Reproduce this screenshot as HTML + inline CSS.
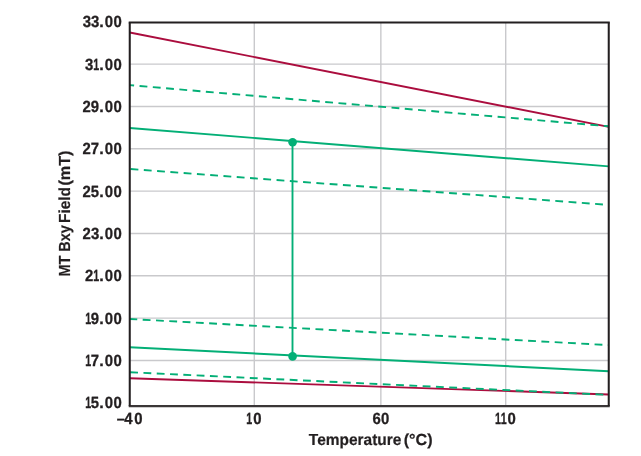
<!DOCTYPE html>
<html><head><meta charset="utf-8"><title>MT Bxy Field vs Temperature</title>
<style>
html,body{margin:0;padding:0;background:#fff;}
body{width:641px;height:456px;overflow:hidden;}
svg{display:block;will-change:transform;}
text{font-family:"Liberation Sans",Arial,sans-serif;font-weight:bold;fill:#231f20;text-rendering:geometricPrecision;}
</style></head><body>
<svg width="641" height="456" viewBox="0 0 641 456">
<rect width="641" height="456" fill="#fff"/>
<g stroke="#c9c9cc" stroke-width="1.4" fill="none">
<line x1="129.75" y1="64.13" x2="608.75" y2="64.13"/>
<line x1="129.75" y1="106.46" x2="608.75" y2="106.46"/>
<line x1="129.75" y1="148.79" x2="608.75" y2="148.79"/>
<line x1="129.75" y1="191.12" x2="608.75" y2="191.12"/>
<line x1="129.75" y1="233.45" x2="608.75" y2="233.45"/>
<line x1="129.75" y1="275.78" x2="608.75" y2="275.78"/>
<line x1="129.75" y1="318.11" x2="608.75" y2="318.11"/>
<line x1="129.75" y1="360.44" x2="608.75" y2="360.44"/>
<line x1="254.3" y1="22.55" x2="254.3" y2="406.05"/>
<line x1="380.85" y1="22.55" x2="380.85" y2="406.05"/>
<line x1="505.7" y1="22.55" x2="505.7" y2="406.05"/>
</g>
<g fill="none" stroke-width="1.9">
<line x1="129.75" y1="32.5" x2="608.75" y2="126.9" stroke="#ab0d3e"/>
<line x1="129.75" y1="378.2" x2="608.75" y2="394.45" stroke="#ab0d3e"/>
<line x1="129.75" y1="85.15" x2="608.75" y2="126.3" stroke="#03af76" stroke-dasharray="7.85 5.46" stroke-dashoffset="3.47"/>
<line x1="129.75" y1="169" x2="608.75" y2="204.9" stroke="#03af76" stroke-dasharray="7.85 5.46" stroke-dashoffset="-0.8"/>
<line x1="129.75" y1="318.98" x2="608.75" y2="345.1" stroke="#03af76" stroke-dasharray="7.85 5.46" stroke-dashoffset="0.35"/>
<line x1="129.75" y1="127.95" x2="608.75" y2="166.4" stroke="#03af76"/>
<line x1="129.75" y1="347.2" x2="608.75" y2="371.25" stroke="#03af76"/>
<line x1="129.75" y1="372.25" x2="608.75" y2="394.9" stroke="#03af76" stroke-dasharray="7.85 5.46" stroke-dashoffset="-0.4"/>
</g>
<line x1="292.5" y1="142.2" x2="292.5" y2="356.4" stroke="#03af76" stroke-width="1.9"/>
<circle cx="292.6" cy="142.2" r="4.3" fill="#03af76"/>
<circle cx="292.6" cy="356.4" r="4.3" fill="#03af76"/>
<g stroke="#231f20" fill="none">
<line x1="128.72" y1="22.55" x2="609.77" y2="22.55" stroke-width="2.05"/>
<line x1="128.72" y1="406.05" x2="609.77" y2="406.05" stroke-width="2.25" stroke="#3a3637"/>
<line x1="129.75" y1="22.55" x2="129.75" y2="406.05" stroke-width="2.05"/>
<line x1="608.75" y1="22.55" x2="608.75" y2="406.05" stroke-width="2.05"/>
</g>
<g font-size="16.2" stroke="#231f20" stroke-width="0.3">
<text y="27.25"><tspan x="82.65" textLength="8.29" lengthAdjust="spacingAndGlyphs">3</tspan><tspan x="90.9" textLength="8.29" lengthAdjust="spacingAndGlyphs">3</tspan><tspan x="99.16">.</tspan><tspan x="104.67" textLength="8.29" lengthAdjust="spacingAndGlyphs">0</tspan><tspan x="113.57" textLength="8.29" lengthAdjust="spacingAndGlyphs">0</tspan></text>
<text y="69.58"><tspan x="85.05" textLength="8.29" lengthAdjust="spacingAndGlyphs">3</tspan><tspan x="93.14" textLength="5.95" lengthAdjust="spacingAndGlyphs">1</tspan><tspan x="99.16">.</tspan><tspan x="104.67" textLength="8.29" lengthAdjust="spacingAndGlyphs">0</tspan><tspan x="113.57" textLength="8.29" lengthAdjust="spacingAndGlyphs">0</tspan></text>
<text y="111.91"><tspan x="82.6" textLength="8.29" lengthAdjust="spacingAndGlyphs">2</tspan><tspan x="90.82" textLength="8.29" lengthAdjust="spacingAndGlyphs">9</tspan><tspan x="99.16">.</tspan><tspan x="104.67" textLength="8.29" lengthAdjust="spacingAndGlyphs">0</tspan><tspan x="113.57" textLength="8.29" lengthAdjust="spacingAndGlyphs">0</tspan></text>
<text y="154.24"><tspan x="82.6" textLength="8.29" lengthAdjust="spacingAndGlyphs">2</tspan><tspan x="90.81" textLength="8.29" lengthAdjust="spacingAndGlyphs">7</tspan><tspan x="99.16">.</tspan><tspan x="104.67" textLength="8.29" lengthAdjust="spacingAndGlyphs">0</tspan><tspan x="113.57" textLength="8.29" lengthAdjust="spacingAndGlyphs">0</tspan></text>
<text y="196.57"><tspan x="82.6" textLength="8.29" lengthAdjust="spacingAndGlyphs">2</tspan><tspan x="90.78" textLength="8.29" lengthAdjust="spacingAndGlyphs">5</tspan><tspan x="99.16">.</tspan><tspan x="104.67" textLength="8.29" lengthAdjust="spacingAndGlyphs">0</tspan><tspan x="113.57" textLength="8.29" lengthAdjust="spacingAndGlyphs">0</tspan></text>
<text y="238.9"><tspan x="82.6" textLength="8.29" lengthAdjust="spacingAndGlyphs">2</tspan><tspan x="90.9" textLength="8.29" lengthAdjust="spacingAndGlyphs">3</tspan><tspan x="99.16">.</tspan><tspan x="104.67" textLength="8.29" lengthAdjust="spacingAndGlyphs">0</tspan><tspan x="113.57" textLength="8.29" lengthAdjust="spacingAndGlyphs">0</tspan></text>
<text y="281.23"><tspan x="85" textLength="8.29" lengthAdjust="spacingAndGlyphs">2</tspan><tspan x="93.14" textLength="5.95" lengthAdjust="spacingAndGlyphs">1</tspan><tspan x="99.16">.</tspan><tspan x="104.67" textLength="8.29" lengthAdjust="spacingAndGlyphs">0</tspan><tspan x="113.57" textLength="8.29" lengthAdjust="spacingAndGlyphs">0</tspan></text>
<text y="323.56"><tspan x="85.34" textLength="5.95" lengthAdjust="spacingAndGlyphs">1</tspan><tspan x="90.82" textLength="8.29" lengthAdjust="spacingAndGlyphs">9</tspan><tspan x="99.16">.</tspan><tspan x="104.67" textLength="8.29" lengthAdjust="spacingAndGlyphs">0</tspan><tspan x="113.57" textLength="8.29" lengthAdjust="spacingAndGlyphs">0</tspan></text>
<text y="365.89"><tspan x="85.34" textLength="5.95" lengthAdjust="spacingAndGlyphs">1</tspan><tspan x="90.81" textLength="8.29" lengthAdjust="spacingAndGlyphs">7</tspan><tspan x="99.16">.</tspan><tspan x="104.67" textLength="8.29" lengthAdjust="spacingAndGlyphs">0</tspan><tspan x="113.57" textLength="8.29" lengthAdjust="spacingAndGlyphs">0</tspan></text>
<text y="408.22"><tspan x="85.34" textLength="5.95" lengthAdjust="spacingAndGlyphs">1</tspan><tspan x="90.78" textLength="8.29" lengthAdjust="spacingAndGlyphs">5</tspan><tspan x="99.16">.</tspan><tspan x="104.67" textLength="8.29" lengthAdjust="spacingAndGlyphs">0</tspan><tspan x="113.57" textLength="8.29" lengthAdjust="spacingAndGlyphs">0</tspan></text>
<text y="424"><tspan x="116.64" textLength="7.93" lengthAdjust="spacingAndGlyphs">–</tspan><tspan x="124.28" textLength="8.29" lengthAdjust="spacingAndGlyphs">4</tspan><tspan x="134.27" textLength="8.29" lengthAdjust="spacingAndGlyphs">0</tspan></text>
<text y="424"><tspan x="246.34" textLength="5.95" lengthAdjust="spacingAndGlyphs">1</tspan><tspan x="253.17" textLength="8.29" lengthAdjust="spacingAndGlyphs">0</tspan></text>
<text y="424"><tspan x="372.45" textLength="8.29" lengthAdjust="spacingAndGlyphs">6</tspan><tspan x="381.07" textLength="8.29" lengthAdjust="spacingAndGlyphs">0</tspan></text>
<text y="424"><tspan x="495.04" textLength="5.95" lengthAdjust="spacingAndGlyphs">1</tspan><tspan x="500.64" textLength="5.95" lengthAdjust="spacingAndGlyphs">1</tspan><tspan x="507.47" textLength="8.29" lengthAdjust="spacingAndGlyphs">0</tspan></text>
</g>
<text y="444.9" font-size="16.0" stroke="#231f20" stroke-width="0.2"><tspan x="308.83" textLength="92.6" lengthAdjust="spacingAndGlyphs">Temperature</tspan> <tspan x="403.7" textLength="28.9" lengthAdjust="spacingAndGlyphs">(°C)</tspan></text>
<text transform="rotate(-90)" y="69.6" font-size="16.0" stroke="#231f20" stroke-width="0.2"><tspan x="-276.57" textLength="51.34" lengthAdjust="spacingAndGlyphs">MT Bxy</tspan> <tspan x="-223.03" textLength="35.95" lengthAdjust="spacingAndGlyphs">Field</tspan> <tspan x="-185.61" textLength="35.11" lengthAdjust="spacingAndGlyphs">(mT)</tspan></text>
</svg>
</body></html>
